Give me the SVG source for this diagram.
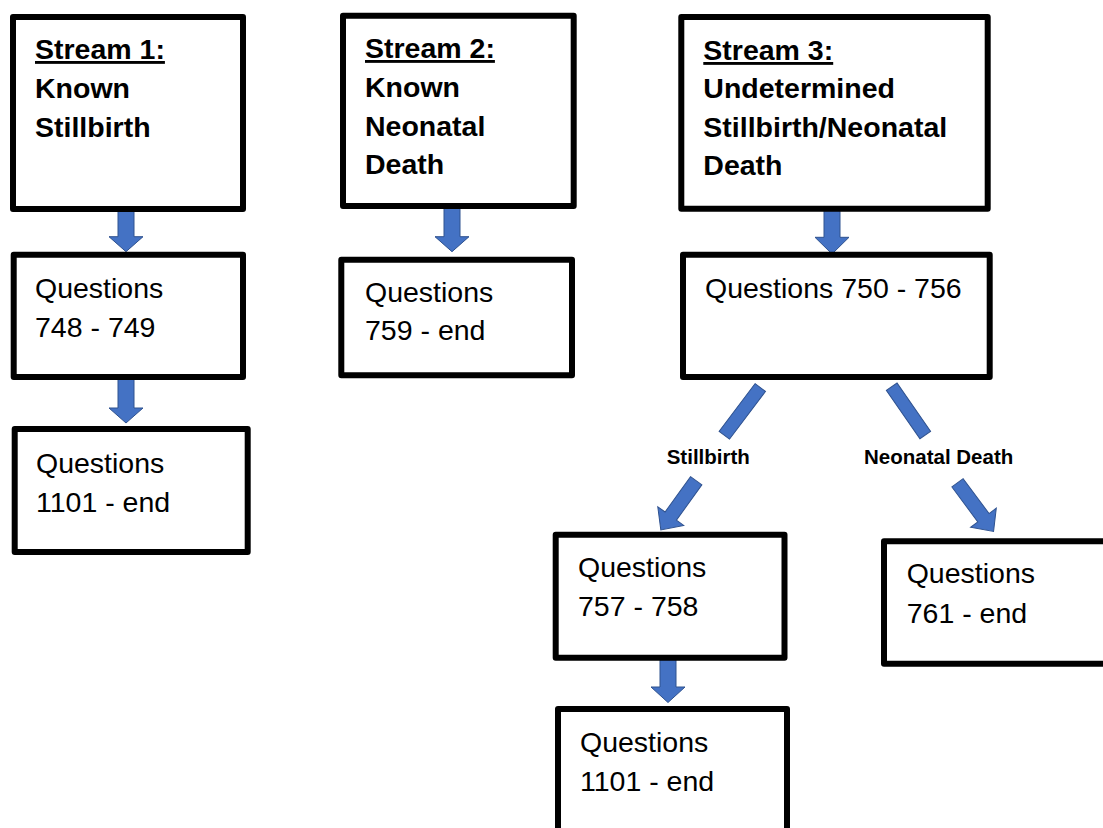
<svg xmlns="http://www.w3.org/2000/svg" width="1103" height="828" viewBox="0 0 1103 828">
<style>
.box{fill:#fff;stroke:#000;stroke-width:6;stroke-linejoin:round}
.h{font-family:"Liberation Sans",Arial,sans-serif;font-weight:bold;font-size:28.5px;fill:#000}
.t{font-family:"Liberation Sans",Arial,sans-serif;font-size:28.5px;fill:#000}
.lbl{font-family:"Liberation Sans",Arial,sans-serif;font-weight:bold;font-size:20.5px;fill:#000}
.u{text-decoration:underline}
.arr{fill:#4472C4;stroke:#2F528F;stroke-width:1}
</style>
<defs>
<polygon id="diag" points="-7,0 7,0 7,43.5 16,43.5 0,60.5 -16,43.5 -7,43.5"/>
</defs>
<rect width="1103" height="828" fill="#fff"/>
<g id="connectors">
<polygon class="arr" points="118,208 134,208 134,236.7 143,236.7 126,251.7 109,236.7 118,236.7"/>
<polygon class="arr" points="118,377 134,377 134,408 143,408 126,423 109,408 118,408"/>
<polygon class="arr" points="444,208 460,208 460,236.7 469,236.7 452,251.7 435,236.7 444,236.7"/>
<polygon class="arr" points="824,210 840,210 840,237.3 849,237.3 832,254 815,237.3 824,237.3"/>
<polygon class="arr" points="660,657 676,657 676,687 685,687 668,702.5 651,687 660,687"/>
<rect class="arr" x="-6.5" y="0" width="13" height="59.8" transform="translate(760.3,387.5) rotate(37)"/>
<rect class="arr" x="-6.5" y="0" width="13" height="58.8" transform="translate(891.7,386.7) rotate(-34.8)"/>
<use href="#diag" class="arr" transform="translate(696.2,480.8) rotate(35.8)"/>
<use href="#diag" class="arr" transform="translate(957.5,482.8) rotate(-36.6)"/>
<text class="lbl" x="666.7" y="464.3">Stillbirth</text>
<text class="lbl" x="864" y="464.3">Neonatal Death</text>
</g>
<g id="stream1">
<rect class="box" x="13" y="17" width="230" height="192"/>
<text class="h" x="35" y="59"><tspan class="u">Stream 1:</tspan></text>
<text class="h" x="35" y="98">Known</text>
<text class="h" x="35" y="137">Stillbirth</text>
</g>
<g id="q748">
<rect class="box" x="13.7" y="254.7" width="229.3" height="122.3"/>
<text class="t" x="35" y="298">Questions</text>
<text class="t" x="35" y="336.7">748 - 749</text>
</g>
<g id="q1101a">
<rect class="box" x="14.7" y="429" width="233" height="123"/>
<text class="t" x="36" y="473.3">Questions</text>
<text class="t" x="36" y="511.7">1101 - end</text>
</g>
<g id="stream2">
<rect class="box" x="343" y="15.7" width="230.7" height="190.3"/>
<text class="h" x="365" y="58"><tspan class="u">Stream 2:</tspan></text>
<text class="h" x="365" y="97">Known</text>
<text class="h" x="365" y="135.5">Neonatal</text>
<text class="h" x="365" y="174">Death</text>
</g>
<g id="q759">
<rect class="box" x="341.3" y="259.7" width="230.7" height="115.6"/>
<text class="t" x="365" y="301.7">Questions</text>
<text class="t" x="365" y="340">759 - end</text>
</g>
<g id="stream3">
<rect class="box" x="681.3" y="17" width="306.4" height="191.7"/>
<text class="h" x="703.3" y="60"><tspan class="u">Stream 3:</tspan></text>
<text class="h" x="703.3" y="98.3">Undetermined</text>
<text class="h" x="703.3" y="136.7">Stillbirth/Neonatal</text>
<text class="h" x="703.3" y="175">Death</text>
</g>
<g id="q750">
<rect class="box" x="683" y="254.7" width="306.7" height="122.3"/>
<text class="t" x="705" y="297.7">Questions 750 - 756</text>
</g>
<g id="q757">
<rect class="box" x="555.7" y="534.7" width="228.8" height="123"/>
<text class="t" x="578" y="577">Questions</text>
<text class="t" x="578" y="615.5">757 - 758</text>
</g>
<g id="q761">
<rect class="box" x="884" y="541.3" width="240" height="122.4"/>
<text class="t" x="906.7" y="583.3">Questions</text>
<text class="t" x="906.7" y="622.7">761 - end</text>
</g>
<g id="q1101b">
<rect class="box" x="558" y="709" width="229" height="140"/>
<text class="t" x="580" y="751.7">Questions</text>
<text class="t" x="580" y="790.7">1101 - end</text>
</g>
</svg>
